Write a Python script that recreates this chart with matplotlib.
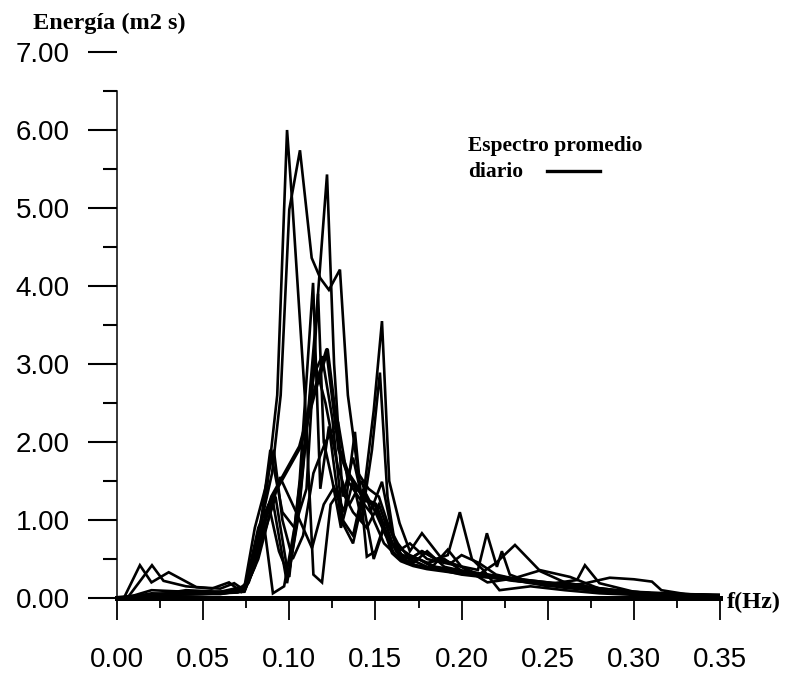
import matplotlib
matplotlib.use("Agg")
import matplotlib.pyplot as plt
from matplotlib.lines import Line2D
import numpy as np

# Espectros de energia del oleaje (f en Hz, E en m2 s)
esp1 = [(0.005, 0.0), (0.02, 0.10), (0.04, 0.08), (0.06, 0.06), (0.074, 0.10), (0.080, 0.6),
        (0.087, 1.4), (0.093, 2.6), (0.0987, 6.0), (0.102, 4.98), (0.109, 2.6), (0.114, 0.3),
        (0.119, 0.2), (0.124, 1.2), (0.130, 1.4), (0.137, 1.1), (0.145, 0.9), (0.152, 1.2),
        (0.160, 0.7), (0.170, 0.55), (0.180, 0.45), (0.190, 0.5), (0.200, 0.35), (0.215, 0.3),
        (0.230, 0.25), (0.250, 0.2), (0.270, 0.15), (0.290, 0.10), (0.310, 0.06), (0.330, 0.05),
        (0.350, 0.04)]

esp2 = [(0.005, 0.0), (0.02, 0.06), (0.04, 0.05), (0.06, 0.07), (0.074, 0.12), (0.082, 0.8),
        (0.090, 1.6), (0.095, 2.6), (0.100, 4.98), (0.1062, 5.74), (0.113, 4.36), (0.118, 4.1),
        (0.123, 3.95), (0.1294, 4.21), (0.134, 2.6), (0.140, 1.6), (0.146, 1.4), (0.152, 1.3),
        (0.158, 0.9), (0.165, 0.55), (0.175, 0.5), (0.185, 0.4), (0.200, 0.35), (0.215, 0.3),
        (0.230, 0.25), (0.250, 0.2), (0.270, 0.15), (0.290, 0.10), (0.310, 0.06), (0.330, 0.04),
        (0.350, 0.03)]

esp3 = [(0.005, 0.0), (0.03, 0.05), (0.06, 0.05), (0.074, 0.10), (0.082, 0.9), (0.090, 1.3),
        (0.0987, 0.19), (0.105, 1.0), (0.111, 2.4), (0.116, 3.7), (0.1219, 5.43), (0.126, 3.0),
        (0.131, 1.3), (0.137, 1.8), (0.143, 1.2), (0.149, 0.5), (0.155, 0.9), (0.162, 0.6),
        (0.170, 0.5), (0.180, 0.4), (0.190, 0.35), (0.200, 0.3), (0.220, 0.25), (0.240, 0.2),
        (0.260, 0.15), (0.280, 0.10), (0.300, 0.06), (0.330, 0.04), (0.350, 0.03)]

esp4 = [(0.005, 0.0), (0.03, 0.04), (0.06, 0.06), (0.074, 0.08), (0.081, 0.5), (0.088, 1.2),
        (0.094, 0.6), (0.100, 0.27), (0.106, 1.5), (0.1138, 4.04), (0.118, 1.4), (0.123, 2.2),
        (0.130, 1.0), (0.137, 0.7), (0.143, 1.3), (0.149, 2.4), (0.1538, 3.55), (0.158, 1.5),
        (0.164, 0.96), (0.170, 0.6), (0.177, 0.83), (0.189, 0.49), (0.200, 0.4), (0.210, 0.3),
        (0.230, 0.22), (0.250, 0.18), (0.267, 0.23), (0.2716, 0.42), (0.280, 0.19), (0.300, 0.08),
        (0.350, 0.03)]

esp5 = [(0.005, 0.0), (0.03, 0.05), (0.06, 0.08), (0.074, 0.10), (0.082, 0.7), (0.089, 1.9),
        (0.096, 1.1), (0.103, 0.9), (0.110, 1.4), (0.1167, 3.9), (0.120, 2.0), (0.125, 1.5),
        (0.130, 0.9), (0.137, 1.5), (0.142, 1.0), (0.148, 1.9), (0.1526, 2.89), (0.157, 1.3),
        (0.162, 0.6), (0.168, 0.45), (0.175, 0.5), (0.183, 0.4), (0.192, 0.62), (0.200, 0.4),
        (0.215, 0.2), (0.230, 0.25), (0.250, 0.15), (0.270, 0.18), (0.286, 0.26), (0.300, 0.24),
        (0.3105, 0.21), (0.316, 0.10), (0.330, 0.05), (0.350, 0.03)]

esp7 = [(0.005, 0.0), (0.02, 0.03), (0.04, 0.10), (0.06, 0.08), (0.074, 0.15), (0.080, 0.9),
        (0.086, 1.4), (0.091, 1.9), (0.096, 1.0), (0.102, 0.5), (0.108, 0.8), (0.114, 1.6),
        (0.121, 2.0), (0.1283, 2.26), (0.134, 1.5), (0.140, 1.3), (0.147, 1.1), (0.1538, 1.49),
        (0.160, 0.8), (0.166, 0.5), (0.172, 0.45), (0.180, 0.6), (0.190, 0.4), (0.200, 0.35),
        (0.210, 0.3), (0.220, 0.45), (0.231, 0.68), (0.245, 0.36), (0.263, 0.27), (0.280, 0.12),
        (0.300, 0.05), (0.350, 0.03)]

esp8 = [(0.005, 0.0), (0.02, 0.04), (0.04, 0.05), (0.06, 0.06), (0.074, 0.09), (0.082, 0.5),
        (0.089, 1.1), (0.0946, 1.55), (0.104, 1.1), (0.1132, 0.64), (0.120, 1.2), (0.126, 1.42),
        (0.132, 1.1), (0.1381, 2.13), (0.145, 0.53), (0.150, 0.6), (0.156, 1.0), (0.163, 0.7),
        (0.170, 0.5), (0.177, 0.6), (0.185, 0.5), (0.194, 0.45), (0.200, 0.55), (0.210, 0.45),
        (0.220, 0.3), (0.230, 0.25), (0.245, 0.35), (0.260, 0.2), (0.280, 0.12), (0.300, 0.06),
        (0.350, 0.03)]

esp9 = [(0.004, 0.0), (0.0133, 0.42), (0.020, 0.2), (0.030, 0.33), (0.046, 0.14), (0.060, 0.12),
        (0.068, 0.19), (0.074, 0.10), (0.080, 0.4), (0.085, 1.0), (0.0905, 0.06), (0.097, 0.15),
        (0.103, 0.9), (0.109, 2.0), (0.115, 3.0), (0.121, 2.5), (0.128, 1.7), (0.135, 1.2),
        (0.142, 1.5), (0.149, 1.0), (0.155, 0.7), (0.162, 0.55), (0.170, 0.5), (0.177, 0.6),
        (0.185, 0.5), (0.192, 0.55), (0.199, 1.1), (0.206, 0.5), (0.213, 0.35), (0.222, 0.10),
        (0.240, 0.15), (0.260, 0.10), (0.280, 0.06), (0.300, 0.04), (0.350, 0.02)]

esp10 = [(0.006, 0.0), (0.0203, 0.42), (0.027, 0.22), (0.040, 0.15), (0.055, 0.12), (0.065, 0.2),
         (0.072, 0.08), (0.078, 0.3), (0.085, 0.8), (0.092, 1.3), (0.0995, 0.27), (0.106, 1.2),
         (0.113, 2.8), (0.119, 3.1), (0.125, 2.3), (0.131, 1.0), (0.137, 0.8), (0.143, 1.4),
         (0.150, 1.1), (0.156, 0.8), (0.163, 0.6), (0.170, 0.7), (0.180, 0.5), (0.190, 0.45),
         (0.2095, 0.36), (0.2147, 0.83), (0.2205, 0.4), (0.2234, 0.6), (0.228, 0.3),
         (0.240, 0.2), (0.260, 0.15), (0.280, 0.08), (0.300, 0.05), (0.350, 0.03)]

# espectro promedio diario (linea gruesa)
promedio = [(0.0, 0.0), (0.01, 0.02), (0.03, 0.05), (0.05, 0.06), (0.07, 0.08), (0.076, 0.2),
            (0.082, 0.6), (0.0847, 0.91), (0.090, 1.3), (0.1062, 1.94), (0.115, 2.67),
            (0.1219, 3.18), (0.129, 1.9), (0.134, 1.6), (0.140, 1.4), (0.144, 1.26), (0.150, 1.2),
            (0.155, 0.9), (0.160, 0.58), (0.165, 0.48), (0.172, 0.42), (0.180, 0.38), (0.190, 0.35),
            (0.200, 0.32), (0.210, 0.3), (0.220, 0.27), (0.230, 0.24), (0.240, 0.2), (0.250, 0.17),
            (0.260, 0.14), (0.270, 0.12), (0.280, 0.10), (0.290, 0.08), (0.300, 0.06),
            (0.320, 0.04), (0.350, 0.03)]

espectros = [esp1, esp2, esp3, esp4, esp5, esp7, esp8, esp9, esp10]

xticks = [0.00, 0.05, 0.10, 0.15, 0.20, 0.25, 0.30, 0.35]
yticks = [0, 1, 2, 3, 4, 5, 6, 7]

plt.rcParams['font.family'] = ['Liberation Sans', 'DejaVu Sans']

fig = plt.figure(figsize=(7.88, 6.74), dpi=100)
ax = fig.add_axes([117 / 788, 76 / 674, 603 / 788, 546 / 674])

for esp in espectros:
    f, e = zip(*esp)
    ax.plot(f, e, color='black', lw=1.9, solid_joinstyle='miter')

f, e = zip(*promedio)
linea_prom, = ax.plot(f, e, color='black', lw=3.0)

# eje de frecuencias grueso
ax.axhline(0, color='black', lw=3.6, clip_on=False)

ax.set_xlim(0, 0.35)
ax.set_ylim(0, 7)

ax.spines['top'].set_visible(False)
ax.spines['right'].set_visible(False)
ax.spines['bottom'].set_visible(False)
ax.spines['left'].set_linewidth(1.1)
ax.spines['left'].set_bounds(0, 6.5)

ax.set_yticks(yticks)
ax.set_yticklabels(['%.2f' % v for v in yticks])
ax.set_yticks(np.array(yticks[:-1]) + 0.5, minor=True)
ax.set_xticks(xticks)
ax.set_xticklabels(['%.2f' % v for v in xticks])
ax.set_xticks(np.array(xticks[:-1]) + 0.025, minor=True)

ax.tick_params(axis='y', which='major', length=21, width=1.5, pad=13, labelsize=20)
ax.tick_params(axis='y', which='minor', length=10, width=1.5)
ax.tick_params(axis='x', which='major', length=16, width=1.3, pad=19, labelsize=20)
ax.tick_params(axis='x', which='minor', length=7, width=1.3)

serif = ['Liberation Serif', 'DejaVu Serif']
fig.text(33 / 788, 1 - 23 / 674, 'Energía (m2 s)', family=serif, weight='bold',
         fontsize=17.5, ha='left', va='center')
fig.text(727 / 788, 1 - 602 / 674, 'f(Hz)', family=serif, weight='bold',
         fontsize=17.5, ha='left', va='center')

fig.text(468 / 788, 1 - 146 / 674, 'Espectro promedio', family=serif, weight='bold',
         fontsize=15.5, ha='left', va='center')
fig.text(468 / 788, 1 - 172 / 674, 'diario', family=serif, weight='bold',
         fontsize=15.5, ha='left', va='center')
fig.add_artist(Line2D([547 / 788, 600 / 788], [1 - 171 / 674, 1 - 171 / 674],
                      transform=fig.transFigure, color='black', lw=2.4))

fig.savefig('out.png', dpi=100)
